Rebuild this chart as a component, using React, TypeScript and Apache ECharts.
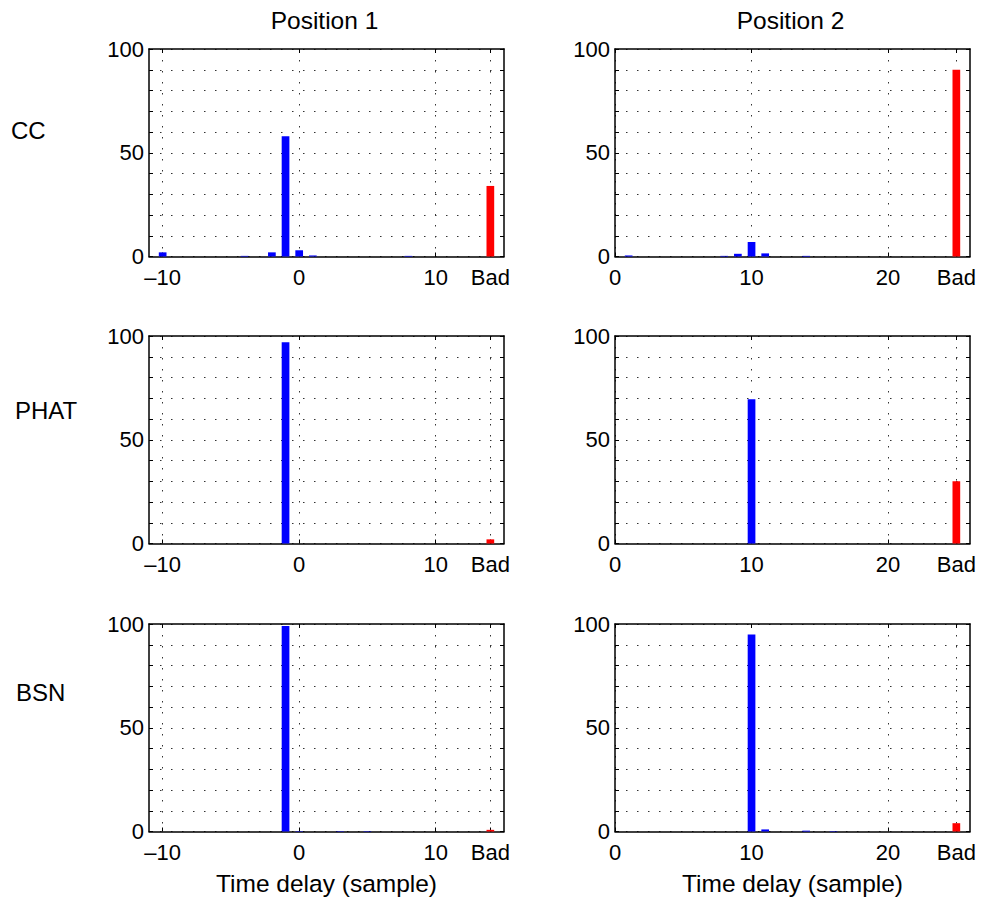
import React, { useEffect, useRef } from "react";
import * as echarts from "echarts";

const FONT = "'Liberation Sans', Arial, Helvetica, sans-serif";

const columnTitles = ["Position 1", "Position 2"];
const rowLabels = ["CC", "PHAT", "BSN"];
const xAxisName = "Time delay (sample)";

// x axis set-up for each column
const pos1Ticks = [-10, 0, 10, 14];
const pos2Ticks = [0, 10, 20, 25];
const pos1Range = [-11, 15];
const pos2Range = [0, 26];
const badLag = [14, 25];
const yTickLabels = [0, 50, 100];

// CC (percent of frames per estimated delay)
const ccPos1Lags = [-10, -4, -2, -1, 0, 1, 8];
const ccPos1Pct = [2, 0.3, 2, 58, 3, 0.5, 0.3];
const ccPos2Lags = [1, 8, 9, 10, 11, 14];
const ccPos2Pct = [0.5, 0.3, 1.3, 7, 1.5, 0.3];
// PHAT
const phatPos1Lags = [-1];
const phatPos1Pct = [97];
const phatPos2Lags = [10];
const phatPos2Pct = [69.5];
// BSN
const bsnPos1Lags = [-1, 0, 3, 5];
const bsnPos1Pct = [99, 0.2, 0.2, 0.2];
const bsnPos2Lags = [10, 11, 14, 16];
const bsnPos2Pct = [95, 1, 0.4, 0.2];
// "Bad" estimates, [Position 1, Position 2]
const ccBad = [34, 90];
const phatBad = [2, 30];
const bsnBad = [0.8, 4];

const panelLags = [
  [ccPos1Lags, ccPos2Lags],
  [phatPos1Lags, phatPos2Lags],
  [bsnPos1Lags, bsnPos2Lags],
];
const panelPct = [
  [ccPos1Pct, ccPos2Pct],
  [phatPos1Pct, phatPos2Pct],
  [bsnPos1Pct, bsnPos2Pct],
];
const panelBad = [ccBad, phatBad, bsnBad];

const colTicks = [pos1Ticks, pos2Ticks];
const colRange = [pos1Range, pos2Range];

// layout
const gridLefts = [149, 615];
const gridWidth = 355;
const gridTops = [49, 336, 624];
const gridHeight = 207.5;
const rowLabelPos = [
  { x: 11, y: 130 },
  { x: 15, y: 410.5 },
  { x: 16, y: 692 },
];

const DOT = [1.5, 9.5];
const TICK_FONT = 22;

function buildOption() {
  const grid: any[] = [];
  const xAxis: any[] = [];
  const yAxis: any[] = [];
  const series: any[] = [];

  for (let r = 0; r < 3; r++) {
    for (let c = 0; c < 2; c++) {
      const gi = r * 2 + c;
      grid.push({
        left: gridLefts[c],
        top: gridTops[r],
        width: gridWidth,
        height: gridHeight,
        show: false,
      });
      const ticks = colTicks[c];
      const bad = badLag[c];
      const fmtX = (v: number) =>
        v === bad ? "Bad" : v < 0 ? "\u2013" + Math.abs(v) : String(v);
      xAxis.push({
        type: "value",
        gridIndex: gi,
        position: "bottom",
        min: colRange[c][0],
        max: colRange[c][1],
        axisLine: { show: true, onZero: false, lineStyle: { color: "#000", width: 1.5 } },
        axisTick: {
          show: true,
          inside: true,
          length: 4,
          customValues: ticks,
          lineStyle: { color: "#000", width: 1 },
        },
        axisLabel: {
          show: true,
          customValues: ticks,
          formatter: fmtX,
          color: "#000",
          fontSize: TICK_FONT,
          fontFamily: FONT,
          margin: 9.5,
          showMinLabel: true,
          showMaxLabel: true,
        },
        splitLine: {
          show: true,
          lineStyle: { color: "#333", width: 1, type: DOT },
        },
      });
      xAxis.push({
        type: "value",
        gridIndex: gi,
        position: "top",
        min: colRange[c][0],
        max: colRange[c][1],
        axisLine: { show: true, onZero: false, lineStyle: { color: "#000", width: 1.5 } },
        axisTick: {
          show: true,
          inside: true,
          length: 4,
          customValues: ticks,
          lineStyle: { color: "#000", width: 1 },
        },
        axisLabel: { show: false },
        splitLine: { show: false },
      });
      yAxis.push({
        type: "value",
        gridIndex: gi,
        position: "left",
        min: 0,
        max: 100,
        interval: 10,
        axisLine: { show: true, onZero: false, lineStyle: { color: "#000", width: 1.5 } },
        axisTick: { show: true, inside: true, length: 4, lineStyle: { color: "#000", width: 1 } },
        axisLabel: {
          show: true,
          formatter: (v: number) => (yTickLabels.indexOf(v) >= 0 ? String(v) : ""),
          color: "#000",
          fontSize: TICK_FONT,
          fontFamily: FONT,
          margin: 5,
        },
        splitLine: {
          show: true,
          lineStyle: { color: "#333", width: 1, type: DOT },
        },
      });
      yAxis.push({
        type: "value",
        gridIndex: gi,
        position: "right",
        min: 0,
        max: 100,
        interval: 10,
        axisLine: { show: true, onZero: false, lineStyle: { color: "#000", width: 1.5 } },
        axisTick: { show: true, inside: true, length: 4, lineStyle: { color: "#000", width: 1 } },
        axisLabel: { show: false },
        splitLine: { show: false },
      });

      const lags = panelLags[r][c];
      const pct = panelPct[r][c];
      const data: any[] = lags.map((lag, i) => ({
        value: [lag, pct[i]],
        itemStyle: { color: "#0000ff" },
      }));
      data.push({
        value: [bad, panelBad[r][c]],
        itemStyle: { color: "#ff0000" },
      });
      series.push({
        type: "bar",
        xAxisIndex: gi * 2,
        yAxisIndex: gi * 2,
        barWidth: 7.7,
        data,
        silent: true,
      });
    }
  }

  const graphic: any[] = [];
  const colCenters = gridLefts.map((l) => l + gridWidth / 2);
  columnTitles.forEach((t, c) => {
    graphic.push({
      type: "text",
      x: colCenters[c] - 2,
      y: 20,
      style: {
        text: t,
        fontSize: 24.5,
        fontFamily: FONT,
        fill: "#000",
        align: "center",
        verticalAlign: "middle",
      },
    });
    graphic.push({
      type: "text",
      x: colCenters[c],
      y: 883,
      style: {
        text: xAxisName,
        fontSize: 24.5,
        fontFamily: FONT,
        fill: "#000",
        align: "center",
        verticalAlign: "middle",
      },
    });
  });
  rowLabels.forEach((t, r) => {
    graphic.push({
      type: "text",
      x: rowLabelPos[r].x,
      y: rowLabelPos[r].y,
      style: {
        text: t,
        fontSize: 24,
        fontFamily: FONT,
        fill: "#000",
        align: "left",
        verticalAlign: "middle",
      },
    });
  });

  return {
    animation: false,
    backgroundColor: "#fff",
    grid,
    xAxis,
    yAxis,
    series,
    graphic,
  };
}

export default function App() {
  const ref = useRef<HTMLDivElement>(null);
  useEffect(() => {
    document.body.style.margin = "0";
    if (!ref.current) return;
    const chart = echarts.init(ref.current, undefined, { renderer: "svg" });
    chart.setOption(buildOption() as any);
    return () => chart.dispose();
  }, []);
  return <div ref={ref} style={{ width: 984, height: 903 }} />;
}
